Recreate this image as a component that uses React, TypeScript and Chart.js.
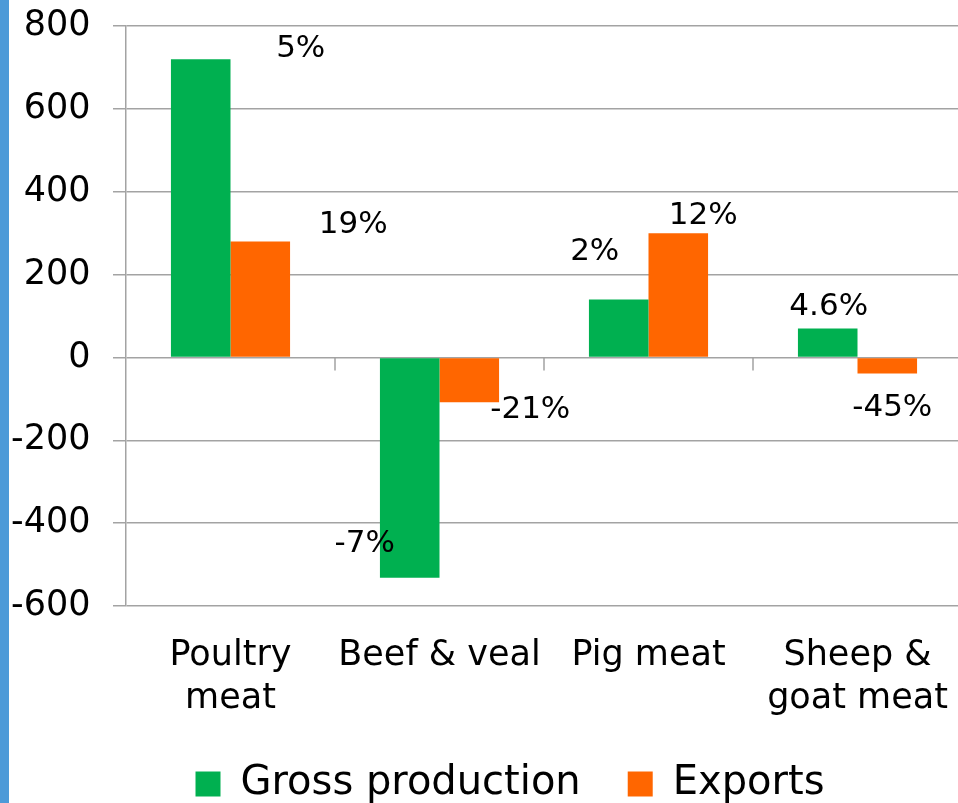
import React, { useEffect, useRef } from 'react';
import { Chart, registerables } from 'chart.js';

Chart.register(...registerables);

// ---- data ----
const categories: string[][] = [['Poultry', 'meat'], ['Beef & veal'], ['Pig meat'], ['Sheep &', 'goat meat']];
const seriesNames = ['Gross production', 'Exports'];
const grossProduction = [720, -532, 140, 70];
const exportsValues = [280, -108, 300, -39];
const grossPctLabels = ['5%', '-7%', '2%', '4.6%'];
const exportsPctLabels = ['19%', '-21%', '12%', '-45%'];
const yMin = -600;
const yMax = 800;
const yStep = 200;

// ---- label placement (pixel offsets from the bar end) ----
const grossLabelOffsets = [[100, -10], [-45, -34], [-24, -47], [1, -21]];
const exportsLabelOffsets = [[93, -16], [61, 8], [25, -17], [5, 34]];

const FONT = '"DejaVu Sans", "Verdana", sans-serif';
const GRID = '#a3a3a3';
const GREEN = '#00B050';
const ORANGE = '#FF6600';

const pctLabelPlugin = {
  id: 'pctLabels',
  afterDatasetsDraw(chart: any) {
    const ctx = chart.ctx;
    ctx.save();
    ctx.font = `31px ${FONT}`;
    ctx.fillStyle = '#000';
    ctx.textAlign = 'center';
    ctx.textBaseline = 'middle';
    [grossPctLabels, exportsPctLabels].forEach((labels, di) => {
      const meta = chart.getDatasetMeta(di);
      const offs = di === 0 ? grossLabelOffsets : exportsLabelOffsets;
      meta.data.forEach((el: any, i: number) => {
        ctx.fillText(labels[i], el.x + offs[i][0], el.y + offs[i][1]);
      });
    });
    ctx.restore();
  },
};

const zeroTicksPlugin = {
  id: 'zeroTicks',
  afterDatasetsDraw(chart: any) {
    const xs = chart.scales.x;
    const ys = chart.scales.y;
    const ctx = chart.ctx;
    const y0 = ys.getPixelForValue(0);
    ctx.save();
    ctx.strokeStyle = GRID;
    ctx.lineWidth = 1.5;
    ctx.beginPath();
    for (let i = 1; i < categories.length; i++) {
      const bx = (xs.getPixelForValue(i - 1) + xs.getPixelForValue(i)) / 2;
      ctx.moveTo(bx, y0);
      ctx.lineTo(bx, y0 + 13);
    }
    ctx.stroke();
    ctx.restore();
  },
};

export default function App() {
  const ref = useRef<HTMLCanvasElement | null>(null);

  useEffect(() => {
    if (!ref.current) return;
    const chart = new Chart(ref.current, {
      type: 'bar',
      data: {
        labels: categories,
        datasets: [
          {
            label: seriesNames[0],
            data: grossProduction,
            backgroundColor: GREEN,
            borderWidth: 0,
          },
          {
            label: seriesNames[1],
            data: exportsValues,
            backgroundColor: ORANGE,
            borderWidth: 0,
          },
        ],
      },
      options: {
        animation: false,
        responsive: false,
        devicePixelRatio: 1,
        layout: { padding: { top: 26, left: 58, right: 38, bottom: 0 } },
        datasets: { bar: { categoryPercentage: 0.57, barPercentage: 1.0 } },
        plugins: {
          tooltip: { enabled: false },
          legend: {
            position: 'bottom',
            labels: {
              boxWidth: 25,
              boxHeight: 25,
              padding: 47,
              color: '#000',
              font: { family: FONT, size: 40 },
            },
          },
        },
        scales: {
          x: {
            grid: { display: false, drawTicks: false },
            border: { display: false },
            ticks: {
              color: '#000',
              font: { family: FONT, size: 35, lineHeight: 1.23 },
              padding: 28,
              maxRotation: 0,
              autoSkip: false,
            },
            afterFit(scale: any) {
              scale.height = 111;
            },
          },
          y: {
            min: yMin,
            max: yMax,
            grid: { color: GRID, lineWidth: 1.5, tickLength: 13, drawTicks: true },
            border: { display: true, color: GRID, width: 1.5 },
            ticks: {
              stepSize: yStep,
              color: '#000',
              font: { family: FONT, size: 35 },
              mirror: true,
              crossAlign: 'far',
              padding: -115,
            },
            afterFit(scale: any) {
              scale.width = 68;
            },
          },
        },
      },
      plugins: [pctLabelPlugin, zeroTicksPlugin],
    });
    return () => chart.destroy();
  }, []);

  return (
    <div
      style={{
        position: 'fixed',
        left: 0,
        top: 0,
        width: 958,
        height: 803,
        overflow: 'hidden',
        background: '#fff',
      }}
    >
      <canvas
        ref={ref}
        width={1000}
        height={814}
        style={{ position: 'absolute', left: 0, top: 0, width: 1000, height: 814 }}
      />
      <div
        style={{
          position: 'absolute',
          left: 0,
          top: 0,
          width: 9,
          height: 803,
          background: '#4d9ad8',
        }}
      />
    </div>
  );
}
